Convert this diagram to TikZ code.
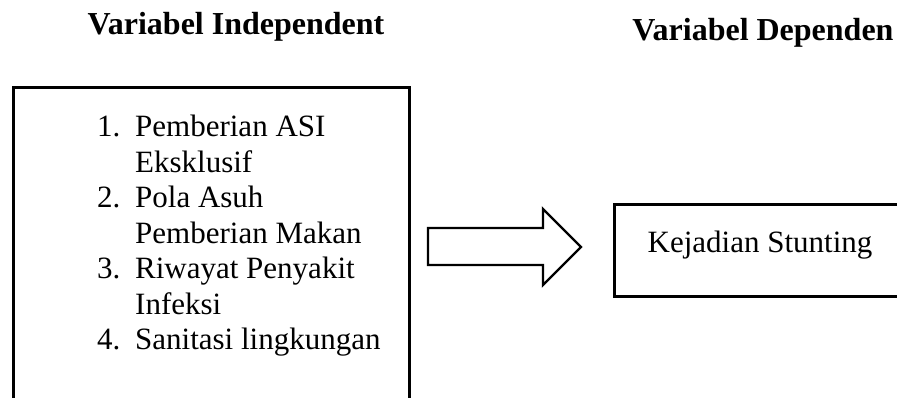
\documentclass[tikz,border=0pt]{standalone}
\usepackage{fontspec}
\setmainfont{Liberation Serif}
\begin{document}
\begin{tikzpicture}[x=1pt,y=-1pt,
  heading/.style={font=\bfseries\fontsize{32}{38}\selectfont, inner sep=0pt, anchor=base},
  bodytext/.style={font=\fontsize{31}{35.5}\selectfont, inner sep=0pt},
  frame/.style={draw, line width=2.6pt, inner sep=0pt, anchor=north west},
  blockarrow/.style={draw, line width=2.4pt, line join=miter}]
  \useasboundingbox (0,0) rectangle (897,398);
  \clip (0,0) rectangle (897,398);

  % column headings
  \node[heading] (hind) at (236,35) {Variabel Independent};
  \node[heading] (hdep) at (763,41) {Variabel Dependen};

  % independent variables box (runs past the lower edge)
  \node[frame, minimum width=396pt, minimum height=340pt] (lbox) at (12,86) {};
  \node[bodytext, anchor=base west] (items) at (97,137) {%
    \begin{tabular}[t]{@{}l@{}l@{}}
      \makebox[38pt][l]{1.} & Pemberian ASI\\
                            & Eksklusif\\
      \makebox[38pt][l]{2.} & Pola Asuh\\
                            & Pemberian Makan\\
      \makebox[38pt][l]{3.} & Riwayat Penyakit\\
                            & Infeksi\\
      \makebox[38pt][l]{4.} & Sanitasi lingkungan
    \end{tabular}};

  % block arrow between the two boxes
  \coordinate (a1) at (428,228);
  \coordinate (a2) at (543,228);
  \coordinate (a3) at (543,209);
  \coordinate (tip) at (581,247);
  \coordinate (a5) at (543,285);
  \coordinate (a6) at (543,265);
  \coordinate (a7) at (428,265);
  \draw[blockarrow] (a1) -- (a2) -- (a3) -- (tip) -- (a5) -- (a6) -- (a7) -- cycle;

  % dependent variable box (runs past the right edge)
  \node[frame, minimum width=320pt, minimum height=92pt] (rbox) at (613,203) {};
  \node[bodytext, anchor=base] (outcome) at (760,253) {Kejadian Stunting};
\end{tikzpicture}
\end{document}
